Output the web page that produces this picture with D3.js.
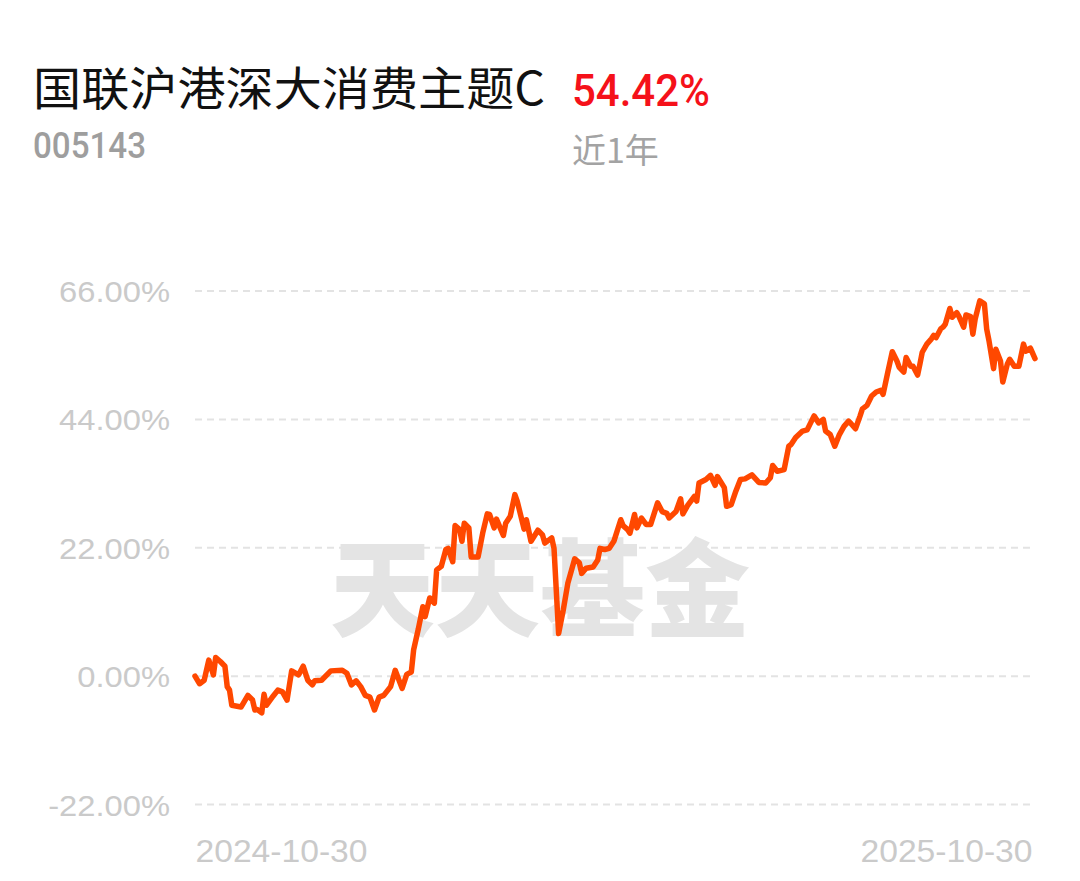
<!DOCTYPE html>
<html>
<head>
<meta charset="utf-8">
<script src="https://cdn.jsdelivr.net/npm/d3@7"></script>
<style>
  html, body { margin: 0; padding: 0; background: #fff; }
  svg { display: block; }
</style>
</head>
<body>
<svg id="chart" width="1080" height="881"></svg>
<script>
// ---- data ----
const fundName = "国联沪港深大消费主题C";
const fundCode = "005143";
const periodReturn = "54.42%";
const periodLabel = "近1年";
const watermark = "天天基金";
const startDate = "2024-10-30";
const endDate = "2025-10-30";
const xTickLabels = ["2024-10-30", "2025-10-30"];
const yTicks = [-22, 0, 22, 44, 66];
// days elapsed since start date
const days = [0,2,4,6,8,9,11,13,14,15,
  16,20,23,25,26,27,29,30,31,34,
  36,38,40,42,45,47,49,51,52,55,
  59,64,66,68,70,72,74,76,78,80,
  82,85,87,90,92,94,95,97,99,100,
  102,104,105,107,109,110,112,113,115,116,
  117,119,120,123,125,127,128,130,131,134,
  135,137,139,140,143,144,146,149,151,152,
  155,156,158,160,162,165,167,168,170,173,
  175,176,178,180,182,185,186,188,189,191,
  192,194,196,198,201,203,205,206,209,211,
  212,214,217,218,219,222,224,226,227,230,
  231,233,235,237,239,242,245,248,250,251,
  253,256,258,259,261,264,266,269,271,273,
  274,276,278,280,282,284,285,287,289,290,
  292,294,296,298,299,301,303,305,306,308,
  309,311,312,314,315,316,318,320,321,322,
  324,325,326,328,329,331,332,334,335,337,
  338,339,341,343,344,345,347,348,350,351,
  353,354,356,358,360,361,363,365];
// cumulative return, %
const returns = [0,-1.3,-0.7,2.75,0.2,3.2,2.5,1.7,-1.8,-2.4,
  -5.0,-5.3,-3.3,-4.1,-5.8,-5.7,-6.3,-3.1,-5.0,-3.4,
  -2.4,-2.7,-4.1,0.9,0.2,1.7,-0.7,-1.5,-0.8,-0.7,
  0.9,1.0,0.5,-1.5,-0.8,-1.8,-3.3,-3.6,-5.8,-3.6,
  -3.3,-1.8,1.0,-2.1,0.3,0.7,4.5,8.0,11.9,10.2,
  13.4,12.5,18.2,18.8,21.7,21.9,19.6,25.8,25.1,23.1,
  26.2,25.4,20.4,20.4,24.5,27.8,27.7,25.4,26.9,24.1,
  26.2,27.4,31.1,30.0,25.2,26.8,23.1,25.0,24.2,22.8,
  23.7,21.9,7.3,11.3,15.9,20.1,19.4,17.6,18.5,18.7,
  19.9,21.9,21.7,21.9,23.1,26.8,25.8,25.1,24.5,27.7,
  25.4,27.1,26.0,26.0,29.7,28.2,27.9,27.1,28.2,30.4,
  27.8,29.2,30.8,30.0,33.1,33.7,34.4,32.7,34.2,32.3,
  29.1,29.4,31.7,33.7,33.8,34.5,33.2,33.1,34.0,36.1,
  35.1,35.4,39.4,39.7,40.9,42.0,42.2,44.6,43.4,44.0,
  42.0,41.4,39.4,41.4,42.8,43.7,43.3,42.4,44.6,45.8,
  46.4,48.0,48.7,49.0,48.3,52.0,55.6,54.0,52.9,52.1,
  54.6,53.1,53.1,51.6,53.5,55.5,56.9,57.8,58.4,58.0,
  59.5,59.8,60.3,63.0,61.5,62.3,61.6,59.8,61.9,61.6,
  58.6,61.2,64.3,63.8,59.5,57.5,52.7,56.0,54.0,50.4,
  53.5,54.3,53.1,53.1,56.9,55.7,56.2,54.42];

// ---- chart ----
const svg = d3.select("#chart");
const W = 1080, H = 881;
const plot = { left: 195, right: 1035, top: 291, bottom: 804.5 };
const gridRight = 1030;

const parse = d3.timeParse("%Y-%m-%d");
const t0 = parse(startDate), t1 = parse(endDate);
const data = days.map((d, i) => ({ date: d3.timeDay.offset(t0, d), v: returns[i] }));

const x = d3.scaleTime().domain([t0, t1]).range([plot.left, plot.right]);
const y = d3.scaleLinear().domain([-22, 66]).range([plot.bottom, plot.top]);

svg.append("rect").attr("width", W).attr("height", H).attr("fill", "#fff");

// header texts
svg.append("text").attr("x", 33).attr("y", 105)
  .attr("font-family", "'Noto Sans CJK SC', sans-serif").attr("font-size", 46)
  .attr("fill", "#111").attr("textLength", 512).attr("lengthAdjust", "spacingAndGlyphs")
  .text(fundName);
svg.append("text").attr("x", 572).attr("y", 106)
  .attr("font-family", "Roboto, sans-serif").attr("font-weight", 500).attr("font-size", 45)
  .attr("fill", "#f5111a").attr("textLength", 138).attr("lengthAdjust", "spacingAndGlyphs")
  .text(periodReturn);
svg.append("text").attr("x", 33).attr("y", 158)
  .attr("font-family", "Roboto, sans-serif").attr("font-weight", 500).attr("font-size", 36)
  .attr("fill", "#9e9e9e").attr("textLength", 113).attr("lengthAdjust", "spacingAndGlyphs")
  .text(fundCode);
svg.append("text").attr("x", 572).attr("y", 163)
  .attr("font-family", "'Noto Sans CJK SC', sans-serif").attr("font-size", 34)
  .attr("fill", "#a3a3a3").text(periodLabel);

// gridlines
svg.append("g").selectAll("line").data(yTicks).join("line")
  .attr("x1", plot.left).attr("x2", gridRight)
  .attr("y1", d => y(d)).attr("y2", d => y(d))
  .attr("stroke", "#e3e3e3").attr("stroke-width", 2)
  .attr("stroke-dasharray", "7,5");

// watermark
svg.append("text").attr("x", 540).attr("y", 628).attr("text-anchor", "middle")
  .attr("font-family", "'Noto Sans CJK SC', sans-serif").attr("font-weight", 900)
  .attr("font-size", 106).attr("fill", "#e4e4e4")
  .attr("textLength", 420).attr("lengthAdjust", "spacingAndGlyphs")
  .text(watermark);

// y axis
const yAxis = d3.axisLeft(y).tickValues(yTicks).tickSize(0).tickPadding(25)
  .tickFormat(d => d.toFixed(2) + "%");
const gy = svg.append("g").attr("transform", `translate(${plot.left},0)`).call(yAxis);
gy.select(".domain").remove();
gy.selectAll("text").attr("font-family", "'Liberation Sans', Arial, sans-serif")
  .attr("font-size", 30).attr("fill", "#cacaca").attr("dy", "0.35em")
  .each(function () {
    const len = this.getComputedTextLength();
    d3.select(this).attr("textLength", len * 1.09).attr("lengthAdjust", "spacingAndGlyphs");
  });

// x labels
const xAxis = d3.axisBottom(x).tickValues(xTickLabels.map(parse)).tickSize(0).tickPadding(0)
  .tickFormat(d3.timeFormat("%Y-%m-%d"));
const gx = svg.append("g").attr("transform", `translate(0,833)`).call(xAxis);
gx.select(".domain").remove();
gx.selectAll("text").attr("font-family", "'Liberation Sans', Arial, sans-serif")
  .attr("font-size", 31).attr("fill", "#cacaca").attr("dy", "0.95em")
  .attr("textLength", 172).attr("lengthAdjust", "spacingAndGlyphs")
  .attr("text-anchor", (d, i) => i === 0 ? "start" : "end")
  .attr("x", (d, i) => i === 0 ? 0 : -3);

// line
const line = d3.line().x(d => x(d.date)).y(d => y(d.v)).curve(d3.curveLinear);
svg.append("path").datum(data).attr("d", line)
  .attr("fill", "none").attr("stroke", "#ff4800").attr("stroke-width", 5.5)
  .attr("stroke-linejoin", "round").attr("stroke-linecap", "round");
</script>
</body>
</html>
